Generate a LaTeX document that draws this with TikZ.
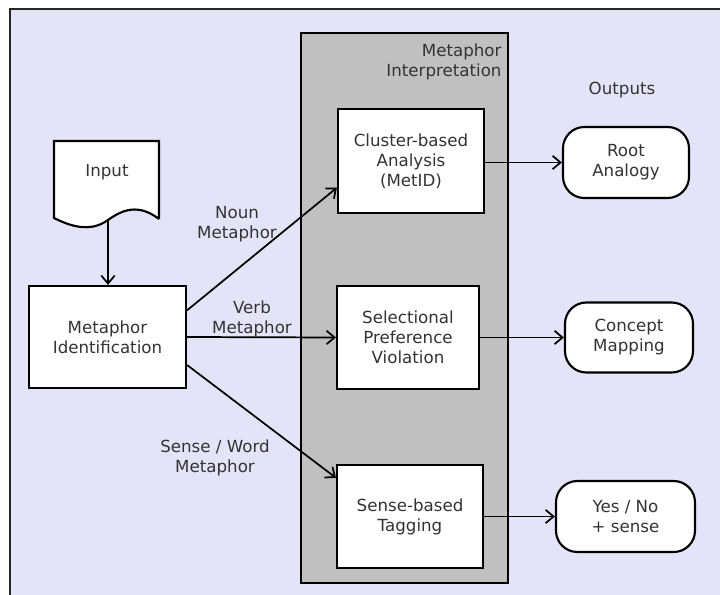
\documentclass[tikz,border=0pt]{standalone}
\usepackage{fontspec}
\setmainfont{DejaVu Sans}
\usetikzlibrary{arrows.meta}
\definecolor{bglav}{RGB}{228,228,248}
\definecolor{boxgrey}{RGB}{192,192,192}
\definecolor{txtgrey}{RGB}{51,51,51}
\tikzset{every picture/.style={line width=0.75pt}}
\tikzset{
  procbox/.style={draw,fill=white,line width=1.6pt,align=center,inner sep=0pt,
    text=txtgrey,font=\fontsize{12.5}{15}\selectfont},
  outbox/.style={procbox,rounded corners=16pt},
  greybox/.style={draw,fill=boxgrey,line width=1.6pt,inner sep=0pt},
  lbl/.style={align=center,inner sep=0.75pt,text=txtgrey,font=\fontsize{12.5}{15}\selectfont},
  flow/.style={-{Straight Barb[length=6pt,width=10pt]},line width=1.3pt}
}

\begin{document}
\begin{tikzpicture}[x=0.75pt,y=0.75pt,yscale=-1,xscale=1]
\clip (0,0) rectangle (720,595);
\fill[white] (0,0) rectangle (720,595);

%Shape: Rectangle (background frame)
\draw[fill=bglav,line width=1.8pt,draw=black!85] (10,9) rectangle (760,640);

%Shape: container
\node[greybox,minimum width=155.25pt,minimum height=412.5pt] (interp) at (404.5,308) {};
\node[lbl,anchor=north east,align=right] (interplbl) at (503,42) {Metaphor\\Interpretation};

%Shape: document (input)
\draw[fill=white,line width=1.6pt] (159,219) -- (159,141) -- (54,141) -- (54,218)
  .. controls (70,226) and (90,233) .. (108,220)
  .. controls (122,210) and (138,203) .. (159,219);
\node[lbl] (input) at (107,172) {Input};
\coordinate (inputbot) at (108,220);

% Boxes
\node[procbox,minimum width=117.75pt,minimum height=76.5pt] (mid) at (107.5,337) {Metaphor\\Identification};
\node[procbox,minimum width=109.5pt,minimum height=78pt] (cluster) at (411,161) {Cluster-based\\Analysis\\(MetID)};
\node[procbox,minimum width=106.5pt,minimum height=77.25pt] (select) at (408,337.5) {Selectional\\Preference\\Violation};
\node[procbox,minimum width=109.5pt,minimum height=77.25pt] (sense) at (410,516.5) {Sense-based\\Tagging};

% Outputs
\node[lbl] (outputs) at (622,90) {Outputs};
\node[outbox,minimum width=94.5pt,minimum height=53.25pt] (root) at (626,162.5) {Root\\Analogy};
\node[outbox,minimum width=96pt,minimum height=52.5pt] (concept) at (629,337.5) {Concept\\Mapping};
\node[outbox,minimum width=104.25pt,minimum height=53.25pt] (yesno) at (625.5,516.5) {Yes / No\\+ sense};

% Connectors
\draw[flow] (inputbot) -- (mid.north -| inputbot);
\draw[flow] ([yshift=-20pt]mid.east) -- ([yshift=20pt]cluster.west);
\draw[flow] (mid.east) -- (select.west);
\draw[flow] ([yshift=21pt]mid.east) -- ([yshift=-29pt]sense.west);
\draw[flow] (cluster.east |- root.west) -- (root.west);
\draw[flow] (select.east) -- (concept.west);
\draw[flow] (sense.east |- yesno.west) -- (yesno.west);

% Labels
\node[lbl] (nounlbl) at (237,224) {Noun\\Metaphor};
\node[lbl] (verblbl) at (252,319) {Verb\\Metaphor};
\node[lbl] (senselbl) at (215,458) {Sense / Word\\Metaphor};

\end{tikzpicture}
\end{document}
